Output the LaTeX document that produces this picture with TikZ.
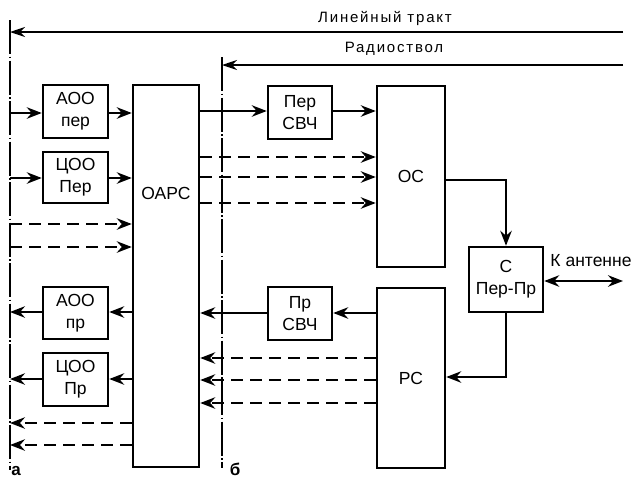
\documentclass[tikz,border=0pt]{standalone}
\usepackage{fontspec}
\setmainfont{Liberation Sans}
\usetikzlibrary{arrows.meta}
\begin{document}
\begin{tikzpicture}[x=1pt,y=-1pt,
  blk/.style={draw, line width=2.5pt, inner sep=0pt, align=center,
    font=\fontsize{17.5}{22}\selectfont},
  txt/.style={inner sep=0pt, font=\fontsize{17.5}{22}\selectfont},
  hdr/.style={inner sep=0pt, font=\fontsize{15}{17}\selectfont\addfontfeature{LetterSpace=12}},
  tip/.tip={Stealth[length=15pt,width=11.5pt,inset=5pt]},
  conn/.style={line width=2pt, -tip},
  dconn/.style={conn, dash pattern=on 12pt off 7pt},
  thinarr/.style={line width=1.3pt, -{Stealth[length=15pt,width=10pt,inset=5pt]}},
  axisline/.style={line width=1.2pt, dash pattern=on 34pt off 2.5pt on 1.5pt off 2.5pt},
  panel/.style={inner sep=0pt, font=\fontsize{17}{20}\selectfont\bfseries}
]
\useasboundingbox (0,0) rectangle (636,480);

% blocks
\node[blk, minimum width=65pt, minimum height=53pt] (aoop) at (75.5,111.5) {АОО\\пер};
\node[blk, minimum width=65pt, minimum height=51pt] (coop) at (75.5,177.5) {ЦОО\\Пер};
\node[blk, minimum width=65pt, minimum height=52pt] (aoor) at (75.5,313) {АОО\\пр};
\node[blk, minimum width=65pt, minimum height=53pt] (coor) at (75.5,379.5) {ЦОО\\Пр};
\node[blk, minimum width=66pt, minimum height=382pt] (oars) at (166,276) {};
\node[txt] (oarst) at (166,193) {ОАРС};
\node[blk, minimum width=64pt, minimum height=53pt] (pers) at (300,112.5) {Пер\\СВЧ};
\node[blk, minimum width=64pt, minimum height=53pt] (prs) at (300,313.5) {Пр\\СВЧ};
\node[blk, minimum width=68pt, minimum height=181pt] (os) at (411,176.5) {ОС};
\node[blk, minimum width=68pt, minimum height=180pt] (rs) at (411,378) {РС};
\node[blk, minimum width=74pt, minimum height=65pt] (sw) at (506,279.5) {С\\Пер-Пр};

% reference lines
\coordinate (axa) at (10,20);
\coordinate (axae) at (10,470);
\coordinate (axb) at (222,57);
\coordinate (axbe) at (222,468);
\draw[axisline] (axa) -- (axae);
\draw[axisline] (axb) -- (axbe);
\coordinate (t1) at (623,32);
\coordinate (t2) at (623,65);
\draw[thinarr] (t1) -- (t1 -| axa);
\draw[thinarr] (t2) -- (t2 -| axb);
\node[hdr] (lt) at (385,18) {Линейный тракт};
\node[hdr] (rsv) at (394,49) {Радиоствол};

% left side rows
\coordinate (a1) at (10,113);
\coordinate (a2) at (10,178);
\coordinate (a3) at (10,224);
\coordinate (a4) at (10,247);
\coordinate (a5) at (10,312);
\coordinate (a6) at (10,379);
\coordinate (a7) at (10,423);
\coordinate (a8) at (10,445);
\draw[conn] (a1) -- (a1 -| aoop.west);
\draw[conn] (aoop.east |- a1) -- (a1 -| oars.west);
\draw[conn] (a2) -- (a2 -| coop.west);
\draw[conn] (coop.east |- a2) -- (a2 -| oars.west);
\draw[dconn] (a3) -- (a3 -| oars.west);
\draw[dconn] (a4) -- (a4 -| oars.west);
\draw[conn] (oars.west |- a5) -- (a5 -| aoor.east);
\draw[conn] (aoor.west |- a5) -- (a5);
\draw[conn] (oars.west |- a6) -- (a6 -| coor.east);
\draw[conn] (coor.west |- a6) -- (a6);
\draw[dconn] (oars.west |- a7) -- (a7);
\draw[dconn] (oars.west |- a8) -- (a8);

% right side rows
\coordinate (b1) at (222,111);
\coordinate (b2) at (222,157);
\coordinate (b3) at (222,177);
\coordinate (b4) at (222,203);
\coordinate (b5) at (222,313);
\coordinate (b6) at (222,358);
\coordinate (b7) at (222,380);
\coordinate (b8) at (222,403);
\draw[conn] (oars.east |- b1) -- (b1 -| pers.west);
\draw[conn] (pers.east |- b1) -- (b1 -| os.west);
\draw[dconn] (oars.east |- b2) -- (b2 -| os.west);
\draw[dconn] (oars.east |- b3) -- (b3 -| os.west);
\draw[dconn] (oars.east |- b4) -- (b4 -| os.west);
\draw[conn] (rs.west |- b5) -- (b5 -| prs.east);
\draw[conn] (prs.west |- b5) -- (b5 -| oars.east);
\draw[dconn] (rs.west |- b6) -- (b6 -| oars.east);
\draw[dconn] (rs.west |- b7) -- (b7 -| oars.east);
\draw[dconn] (rs.west |- b8) -- (b8 -| oars.east);

% switch connections
\coordinate (k1) at (506,180);
\coordinate (k2) at (506,377);
\coordinate (ant) at (623,281);
\draw[conn] (os.east |- k1) -| (sw.north);
\draw[conn] (sw.south) |- (k2 -| rs.east);
\draw[line width=2pt, tip-tip] (sw.east |- ant) -- (ant);
\node[txt] (ka) at (591,261) {К антенне};

% panel labels
\node[panel] (la) at (16,471) {а};
\node[panel] (lb) at (235,469) {б};
\end{tikzpicture}
\end{document}
